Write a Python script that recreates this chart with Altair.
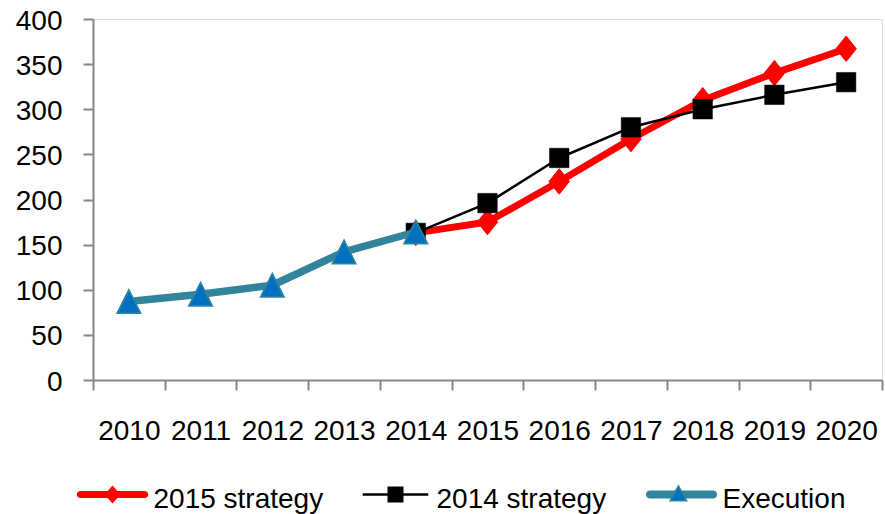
import math
import altair as alt
import pandas as pd

# ---------------- data ----------------
years = ["2010", "2011", "2012", "2013", "2014", "2015", "2016", "2017", "2018", "2019", "2020"]
series_names = ["2015 strategy", "2014 strategy", "Execution"]

exec_years = ["2010", "2011", "2012", "2013", "2014"]
execution = [87, 95, 105, 142, 164]

strat_years = ["2014", "2015", "2016", "2017", "2018", "2019", "2020"]
strategy_2015 = [163, 175, 220, 267, 310, 340, 367]
strategy_2014 = [163, 196, 246, 280, 300, 316, 330]

rows = []
for y, v in zip(strat_years, strategy_2015):
    rows.append({"year": y, "value": v, "series": "2015 strategy"})
for y, v in zip(strat_years, strategy_2014):
    rows.append({"year": y, "value": v, "series": "2014 strategy"})
for y, v in zip(exec_years, execution):
    rows.append({"year": y, "value": v, "series": "Execution"})
df = pd.DataFrame(rows)

# ---------------- styles ----------------
RED = "#FF0000"
BLACK = "#000000"
TEAL = "#31849B"
BLUE = "#0070C0"
GRAY = "#868686"
FONT = "Liberation Sans"

x_axis = alt.Axis(title=None, tickBand="extent", labelAngle=0, labelFont=FONT, labelFontSize=28,
                  labelColor="black", labelPadding=27, tickSize=10, tickColor=GRAY, tickWidth=2,
                  domainColor=GRAY, domainWidth=2, labelOverlap=False, grid=False)
y_axis = alt.Axis(title=None, values=[0, 50, 100, 150, 200, 250, 300, 350, 400], labelFont=FONT,
                  labelFontSize=28, labelColor="black", labelPadding=21, labelOffset=2, tickSize=10,
                  tickColor=GRAY, tickWidth=2, domainColor=GRAY, domainWidth=2, grid=False)

x_enc = alt.X("year:N", scale=alt.Scale(type="band", domain=years, paddingInner=0, paddingOuter=0), axis=x_axis)
y_enc = alt.Y("value:Q", scale=alt.Scale(domain=[0, 400], nice=False), axis=y_axis)

DIAMOND = "M-0.8,0L0,-1L0.8,0L0,1Z"
TRIANGLE = "M0,-1L-1,1L1,1Z"


def series_layers(name, color, width, shape, size, fill, stroke, sw):
    base = alt.Chart(df).transform_filter(alt.datum.series == name).encode(x=x_enc, y=y_enc)
    line = base.mark_line(color=color, strokeWidth=width, strokeJoin="round", strokeCap="round")
    pts = base.mark_point(shape=shape, size=size, filled=True, fill=fill, stroke=stroke,
                          strokeWidth=sw, opacity=1)
    return [line, pts]


layers = []
layers += series_layers("2015 strategy", RED, 7, DIAMOND, 650, RED, RED, 1)
layers += series_layers("2014 strategy", BLACK, 2.5, "square", 380, BLACK, BLACK, 0.5)
layers += series_layers("Execution", TEAL, 7.5, TRIANGLE, 560, BLUE, TEAL, 1.5)


# ---------------- legend symbols (line + marker) ----------------
U = 33.0  # px per path unit (symbolSize = 66^2)
C = -5.0 / U  # vertical shift of symbols relative to label centre


def f(v):
    return f"{v:.4f}"


def capsule(half_len_px, thick_px):
    r = thick_px / 2 / U
    xl = half_len_px / U
    pts = []
    pts.append((-xl, C - r))
    pts.append((xl, C - r))
    for k in range(1, 6):
        a = math.pi * k / 6
        pts.append((xl + r * math.sin(a), C - r * math.cos(a)))
    pts.append((xl, C + r))
    pts.append((-xl, C + r))
    for k in range(1, 6):
        a = math.pi * k / 6
        pts.append((-xl - r * math.sin(a), C + r * math.cos(a)))
    return "M" + "L".join(f"{f(px)},{f(py)}" for px, py in pts) + "Z"


def rect(half_w_px, half_h_px):
    w = half_w_px / U
    h = half_h_px / U
    return f"M{f(-w)},{f(C - h)}L{f(w)},{f(C - h)}L{f(w)},{f(C + h)}L{f(-w)},{f(C + h)}Z"


def diamond(half_w_px, half_h_px):
    w = half_w_px / U
    h = half_h_px / U
    return f"M{f(-w)},{f(C)}L0,{f(C - h)}L{f(w)},{f(C)}L0,{f(C + h)}Z"


legend_paths = [
    capsule(32.3, 7) + diamond(8.0, 9.0),
    rect(32.8, 1.25) + rect(8.0, 8.0),
    capsule(31.6, 8),
]

legA = alt.Legend(title=None, orient="none", legendX=-13.5, legendY=447.5, direction="horizontal",
                  columns=3, symbolSize=4356, symbolStrokeWidth=0, symbolOpacity=1,
                  labelFont=FONT, labelFontSize=28, labelColor="black", labelOffset=8,
                  labelLimit=400, columnPadding=39, padding=0)

legend_a = alt.Chart(df).transform_filter("false").mark_point(filled=True, opacity=1).encode(
    color=alt.Color("series:N", scale=alt.Scale(domain=series_names, range=[RED, BLACK, TEAL]), legend=legA),
    shape=alt.Shape("series:N", scale=alt.Scale(domain=series_names, range=legend_paths), legend=legA),
)

TRI_LEG = "M0,-0.9L-1,0.9L1,0.9Z"
legB = alt.Legend(title=None, orient="none", legendX=576.4, legendY=465.3, symbolType=TRI_LEG,
                  symbolSize=272, symbolStrokeWidth=1.5, symbolStrokeColor=TEAL, symbolOpacity=1,
                  labelExpr="''", labelFontSize=8, padding=0)

legend_b = alt.Chart(df).transform_filter("false").mark_point(
    filled=True, opacity=1, shape=TRI_LEG, stroke=TEAL, strokeWidth=1.5
).encode(
    fill=alt.Fill("series:N", scale=alt.Scale(domain=["Execution"], range=[BLUE]), legend=legB),
)

chart = alt.layer(*layers, legend_a, legend_b).properties(
    width=789,
    height=361,
    padding={"left": 93, "top": 19, "right": 3, "bottom": 134},
    autosize=alt.AutoSizeParams(type="none"),
    background="white",
).configure_view(strokeWidth=0).configure(font=FONT)

chart.save("out.html", embed_options={"renderer": "svg", "actions": False})
